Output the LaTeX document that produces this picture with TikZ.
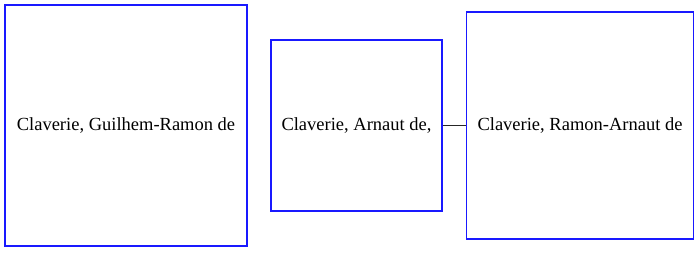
\documentclass[tikz,border=0pt]{standalone}
\usepackage{fontspec}
\setmainfont{Liberation Serif}
\begin{document}
\begin{tikzpicture}[x=1pt,y=-1pt,
  personbox/.style={draw=blue!90!white, line width=1.3pt, inner sep=0pt, font=\fontsize{18.5}{22}\selectfont},
  link/.style={draw=black!85, line width=1pt}]
\useasboundingbox (0,0) rectangle (700,252);
\node[personbox, minimum width=242pt, minimum height=241pt] (g) at (126,125.5) {Claverie, Guilhem-Ramon de};
\node[personbox, minimum width=171pt, minimum height=171pt] (a) at (356.5,125.5) {Claverie, Arnaut de,};
\node[personbox, minimum width=227pt, minimum height=227pt] (r) at (580,125.5) {Claverie, Ramon-Arnaut de};
\draw[link] (a.east) -- (r.west);
\end{tikzpicture}
\end{document}
